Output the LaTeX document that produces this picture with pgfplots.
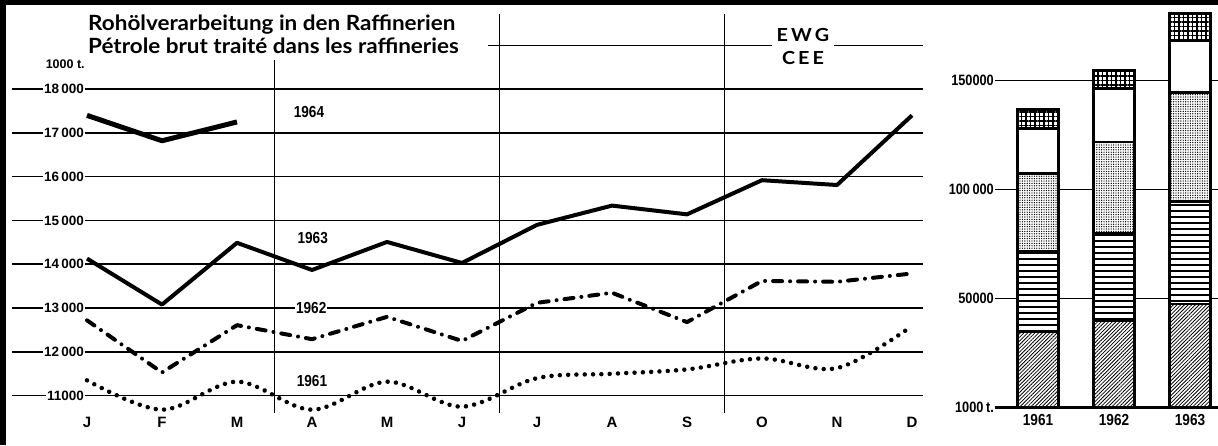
\documentclass[border=0pt]{standalone}
\usepackage{fontspec}
\setmainfont{Liberation Sans}
\newfontfamily\titlefont[FakeStretch=1.07]{Lato}
\newfontfamily\ewgfont[FakeStretch=1.1]{Lato}
\newfontfamily\condfont[FakeStretch=0.85]{Liberation Sans}
\usepackage{pgfplots}
\pgfplotsset{compat=1.18}
\usetikzlibrary{patterns.meta}

\begin{document}
\begin{tikzpicture}[x=1pt,y=1pt]
\path[use as bounding box] (0,0) rectangle (1218,445);

% ---------------- line chart ----------------
\begin{axis}[
  at={(12pt,31.8pt)}, anchor=south west, scale only axis,
  width=911.25pt, height=400.75pt,
  xmin=-1, xmax=11.15, ymin=10600, ymax=19750,
  axis line style={draw=none},
  major tick length=0pt,
  xtick={0,...,11}, xticklabels={J,F,M,A,M,J,J,A,S,O,N,D},
  xticklabel style={font=\bfseries\fontsize{15}{15}\selectfont},
  ytick={11000,12000,...,18000}, yticklabel=\empty,
  ymajorgrids, grid style={black, line width=1.6pt},
  clip=false,
]
% partial 19000 line and quarter separators
\draw[line width=1.6pt] (axis cs:5.347,19000) -- (axis cs:11.15,19000);
\draw[line width=1.6pt] (axis cs:2.5,10600) -- (axis cs:2.5,18660);
\draw[line width=1.6pt] (axis cs:5.5,10600) -- (axis cs:5.5,19715);
\draw[line width=1.6pt] (axis cs:8.5,10600) -- (axis cs:8.5,19715);

% 1964
\addplot[line width=5pt, line join=round] coordinates {(0,17400) (1,16820) (2,17250)};
% 1963
\addplot[line width=4pt, line join=round] coordinates {
 (0,14130) (1,13080) (2,14490) (3,13870) (4,14510) (5,14030)
 (6,14900) (7,15340) (8,15140) (9,15920) (10,15810) (11,17400)};
% 1962
\addplot[line width=4pt, line cap=round, line join=round,
  dash pattern=on 9pt off 8pt on 0.01pt off 8pt] coordinates {
 (0,12720) (1,11530) (2,12610) (3,12290) (4,12800) (5,12250)
 (6,13120) (7,13350) (8,12680) (9,13620) (10,13600) (11,13790)};
% 1961
\addplot[line width=4.5pt, line cap=round, dash pattern=on 0.01pt off 8.3pt,
  smooth, tension=0.55] coordinates {
 (0,11350) (1,10680) (2,11320) (3,10680) (4,11320) (5,10750)
 (6,11400) (7,11500) (8,11600) (9,11850) (10,11630) (11,12590)};

% y labels on the grid lines
\foreach \v/\t in {18000/18\,000,17000/17\,000,16000/16\,000,15000/15\,000,14000/14\,000,13000/13\,000,12000/12\,000,11000/11000}{
  \edef\tmp{\noexpand\node[anchor=east, fill=white, inner xsep=1.5pt, inner ysep=0.5pt,
    font=\noexpand\bfseries\noexpand\fontsize{13.5}{13.5}\noexpand\selectfont]
    at (axis cs:-0.02,\v) {\t};}
  \tmp
}
\node[font=\bfseries\fontsize{12.5}{12.5}\selectfont] at (axis cs:-0.29,18570) {1000 t.};

% year labels
\node[font=\condfont\bfseries\fontsize{16}{16}\selectfont] at (axis cs:2.96,17477) {1964};
\node[font=\condfont\bfseries\fontsize{16}{16}\selectfont] at (axis cs:3.01,14600) {1963};
\node[fill=white, inner sep=1pt, font=\condfont\bfseries\fontsize{16}{16}\selectfont] at (axis cs:2.99,13000) {1962};
\node[font=\condfont\bfseries\fontsize{16}{16}\selectfont] at (axis cs:3.0,11336) {1961};
\end{axis}

% ---------------- bar chart ----------------
\begin{axis}[
  at={(995pt,37.7pt)}, anchor=south west, scale only axis,
  width=223pt, height=396.76pt,
  xmin=-0.566, xmax=2.368, ymin=0, ymax=182000,
  ybar stacked, bar width=41pt,
  axis line style={draw=none}, major tick length=0pt,
  xtick={0,1,2}, xticklabels={1961,1962,1963},
  xticklabel style={font=\condfont\bfseries\fontsize{16}{16}\selectfont, yshift=-3pt},
  ytick={0,50000,100000,150000},
  yticklabels={1000\,t.,50000,100\,000,150000},
  yticklabel style={font=\condfont\bfseries\fontsize{15}{15}\selectfont, inner xsep=1pt},
  ymajorgrids, grid style={black, line width=1.4pt},
  clip=false,
]
\addplot[draw=black, line width=2.5pt, preaction={fill=white},
  pattern={Lines[angle=45,distance=2.6pt,line width=0.8pt]}]
  coordinates {(0,34700) (1,39700) (2,47400)};
\addplot[draw=black, line width=2.5pt, preaction={fill=white},
  pattern={Lines[angle=0,distance=6pt,line width=1.1pt]}]
  coordinates {(0,36700) (1,40100) (2,46900)};
\addplot[draw=black, line width=2.5pt, preaction={fill=white},
  pattern={Dots[distance=2.4pt,radius=0.7pt]}]
  coordinates {(0,35900) (1,42000) (2,50000)};
\addplot[draw=black, line width=2.5pt, fill=white]
  coordinates {(0,20700) (1,24500) (2,23900)};
\addplot[draw=black, line width=2.5pt, preaction={fill=white},
  pattern={Hatch[distance=4.5pt,line width=1.3pt]}]
  coordinates {(0,8700) (1,8100) (2,12500)};
\draw[line width=3pt] (axis cs:-0.566,0) -- (axis cs:2.368,0);
\end{axis}

% ---------------- titles and frame ----------------
\node[anchor=base west, inner sep=0, font=\titlefont\bfseries\fontsize{21}{21}\selectfont] at (88,414) {Rohölverarbeitung in den Raffinerien};
\node[anchor=base west, inner sep=0, font=\titlefont\bfseries\fontsize{21}{21}\selectfont] at (88,391.5) {Pétrole brut traité dans les raffineries};
\node[fill=white, align=center, inner xsep=5pt, inner ysep=1pt,
  font=\ewgfont\bfseries\fontsize{18}{23}\selectfont] at (803,398.5) {E\,W\,G\\C\,E\,E};
\fill (0,439.5) rectangle (1218,445);
\fill (0,0) rectangle (6,445);
\end{tikzpicture}
\end{document}
